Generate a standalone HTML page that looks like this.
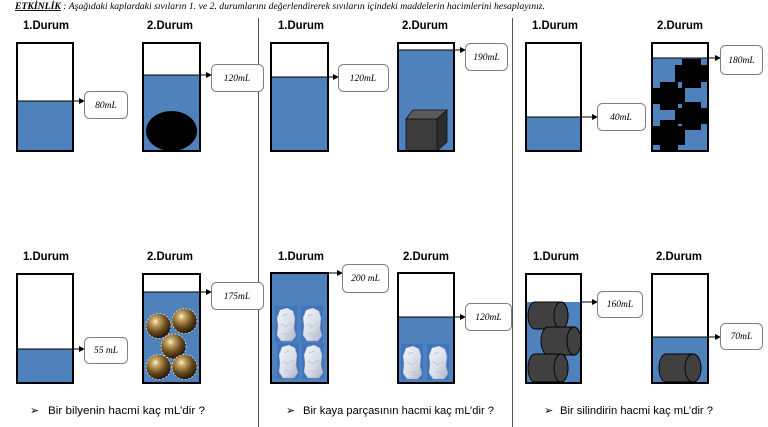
<!DOCTYPE html>
<html><head><meta charset="utf-8">
<style>
html,body{margin:0;padding:0;background:#fff;}
svg{display:block;}
.dur{font-family:"Liberation Sans",sans-serif;font-weight:bold;font-size:12px;fill:#000;}
.lbl{font-family:"Liberation Serif",serif;font-style:italic;font-size:9.5px;fill:#000;}
.q{font-family:"Liberation Sans",sans-serif;font-size:11px;fill:#000;}
</style></head>
<body>
<svg width="768" height="427" viewBox="0 0 768 427" xmlns="http://www.w3.org/2000/svg">
<defs>
  <marker id="ah" markerWidth="6" markerHeight="6" refX="5" refY="3" orient="auto" markerUnits="userSpaceOnUse">
    <path d="M0,0 L6,3 L0,6 Z" fill="#000"/>
  </marker>
  <radialGradient id="ball" cx="0.38" cy="0.32" r="0.7">
    <stop offset="0" stop-color="#fff4d6"/>
    <stop offset="0.2" stop-color="#c9a866"/>
    <stop offset="0.6" stop-color="#6b4d1e"/>
    <stop offset="1" stop-color="#1e1406"/>
  </radialGradient>
  <linearGradient id="rockg" x1="0" y1="0" x2="1" y2="1">
    <stop offset="0" stop-color="#f4f6fa"/>
    <stop offset="0.6" stop-color="#d6dbe6"/>
    <stop offset="1" stop-color="#aab2c4"/>
  </linearGradient>
  <g id="rock">
    <rect x="0" y="0" width="22" height="36" fill="#3f74c0"/>
    <path d="M5,4 L12,2 L18,5 L20,12 L19,22 L21,30 L17,35 L6,35 L2,29 L3,20 L2,12 Z" fill="url(#rockg)" stroke="#9aa4b8" stroke-width="0.5"/>
    <path d="M7,10 L12,8 M6,18 L11,21 L16,17 M8,27 L14,29" stroke="#b8c0d0" stroke-width="0.8" fill="none"/>
  </g>
  <clipPath id="c3b"><rect x="652" y="58" width="56" height="93"/></clipPath>
  <clipPath id="c6a"><rect x="526" y="274" width="55" height="109"/></clipPath>
</defs>

<!-- Header -->
<text x="15" y="9" textLength="530" lengthAdjust="spacingAndGlyphs" style="font-family:'Liberation Serif',serif;font-style:italic;font-size:9px;"><tspan font-weight="bold" text-decoration="underline">ETKİNLİK</tspan> : Aşağıdaki kaplardaki sıvıların 1. ve 2. durumlarını değerlendirerek sıvıların içindeki maddelerin hacimlerini hesaplayınız.</text>

<!-- Dividers -->
<line x1="258.5" y1="18" x2="258.5" y2="427" stroke="#555" stroke-width="1"/>
<line x1="512.5" y1="18" x2="512.5" y2="427" stroke="#555" stroke-width="1"/>

<!-- Durum labels top -->
<text class="dur" x="23" y="29" textLength="46" lengthAdjust="spacingAndGlyphs">1.Durum</text>
<text class="dur" x="147" y="29" textLength="46" lengthAdjust="spacingAndGlyphs">2.Durum</text>
<text class="dur" x="278" y="29" textLength="46" lengthAdjust="spacingAndGlyphs">1.Durum</text>
<text class="dur" x="402" y="29" textLength="46" lengthAdjust="spacingAndGlyphs">2.Durum</text>
<text class="dur" x="532" y="29" textLength="46" lengthAdjust="spacingAndGlyphs">1.Durum</text>
<text class="dur" x="657" y="29" textLength="46" lengthAdjust="spacingAndGlyphs">2.Durum</text>
<!-- Durum labels bottom -->
<text class="dur" x="23" y="260" textLength="46" lengthAdjust="spacingAndGlyphs">1.Durum</text>
<text class="dur" x="147" y="260" textLength="46" lengthAdjust="spacingAndGlyphs">2.Durum</text>
<text class="dur" x="278" y="260" textLength="46" lengthAdjust="spacingAndGlyphs">1.Durum</text>
<text class="dur" x="403" y="260" textLength="46" lengthAdjust="spacingAndGlyphs">2.Durum</text>
<text class="dur" x="533" y="260" textLength="46" lengthAdjust="spacingAndGlyphs">1.Durum</text>
<text class="dur" x="656" y="260" textLength="46" lengthAdjust="spacingAndGlyphs">2.Durum</text>

<!-- ===== TOP ROW ===== -->
<!-- Panel A C1 -->
<rect x="17" y="101" width="56" height="50" fill="#4f81bd"/>
<line x1="17" y1="101" x2="73" y2="101" stroke="#000" stroke-width="1"/>
<rect x="17" y="43" width="56" height="108" fill="none" stroke="#000" stroke-width="2"/>
<line x1="73" y1="101" x2="84" y2="101" stroke="#000" marker-end="url(#ah)"/>
<rect x="84.5" y="91.5" width="43" height="27" rx="5" fill="#fff" stroke="#7f7f7f"/>
<text class="lbl" x="106" y="108" text-anchor="middle">80mL</text>

<!-- Panel A C2 -->
<rect x="143" y="75" width="57" height="76" fill="#4f81bd"/>
<ellipse cx="171.5" cy="131" rx="25.5" ry="20" fill="#000"/>
<line x1="143" y1="75" x2="200" y2="75" stroke="#000" stroke-width="1"/>
<rect x="143" y="43" width="57" height="108" fill="none" stroke="#000" stroke-width="2"/>
<line x1="200" y1="75" x2="211" y2="75" stroke="#000" marker-end="url(#ah)"/>
<rect x="211.5" y="64.5" width="52" height="27" rx="5" fill="#fff" stroke="#7f7f7f"/>
<text class="lbl" x="237" y="81" text-anchor="middle">120mL</text>

<!-- Panel B C1 -->
<rect x="271" y="77" width="57" height="74" fill="#4f81bd"/>
<line x1="271" y1="77" x2="328" y2="77" stroke="#000" stroke-width="1"/>
<rect x="271" y="43" width="57" height="108" fill="none" stroke="#000" stroke-width="2"/>
<line x1="328" y1="77" x2="338" y2="77" stroke="#000" marker-end="url(#ah)"/>
<rect x="338.5" y="64.5" width="50" height="27" rx="5" fill="#fff" stroke="#7f7f7f"/>
<text class="lbl" x="363" y="81" text-anchor="middle">120mL</text>

<!-- Panel B C2 -->
<rect x="398" y="50" width="56" height="101" fill="#4f81bd"/>
<!-- cube -->
<polygon points="406,119 413,110 447,110 437,119" fill="#5a5a5a" stroke="#111" stroke-width="0.8"/>
<polygon points="437,119 447,110 447,142 437,151" fill="#2c2c2c" stroke="#111" stroke-width="0.8"/>
<rect x="406" y="119" width="31" height="32" fill="#3c3c3c" stroke="#111" stroke-width="0.8"/>
<line x1="398" y1="50" x2="454" y2="50" stroke="#000" stroke-width="1"/>
<rect x="398" y="43" width="56" height="108" fill="none" stroke="#000" stroke-width="2"/>
<line x1="454" y1="50" x2="465" y2="50" stroke="#000" marker-end="url(#ah)"/>
<rect x="465.5" y="43.5" width="42" height="27" rx="5" fill="#fff" stroke="#7f7f7f"/>
<text class="lbl" x="486.5" y="60" text-anchor="middle">190mL</text>

<!-- Panel C C1 -->
<rect x="526" y="117" width="55" height="34" fill="#4f81bd"/>
<line x1="526" y1="117" x2="581" y2="117" stroke="#000" stroke-width="1"/>
<rect x="526" y="43" width="55" height="108" fill="none" stroke="#000" stroke-width="2"/>
<line x1="581" y1="117" x2="597" y2="117" stroke="#000" marker-end="url(#ah)"/>
<rect x="597.5" y="103.5" width="48" height="27" rx="5" fill="#fff" stroke="#7f7f7f"/>
<text class="lbl" x="621" y="120" text-anchor="middle">40mL</text>

<!-- Panel C C2 -->
<rect x="652" y="58" width="56" height="93" fill="#4f81bd"/>
<g clip-path="url(#c3b)" fill="#000">
  <polygon points="682,59 701,59 701,65 708,65 708,82 701,82 701,88 682,88 682,82 675,82 675,65 682,65"/>
  <polygon points="660,82 678,82 678,88 685,88 685,104 678,104 678,110 660,110 660,104 653,104 653,88 660,88"/>
  <polygon points="682,102 701,102 701,108 708,108 708,124 701,124 701,130 682,130 682,124 675,124 675,108 682,108"/>
  <polygon points="660,120 678,120 678,126 685,126 685,145 678,145 678,151 660,151 660,145 653,145 653,126 660,126"/>
</g>
<line x1="652" y1="58" x2="708" y2="58" stroke="#000" stroke-width="1"/>
<rect x="652" y="43" width="56" height="108" fill="none" stroke="#000" stroke-width="2"/>
<line x1="708" y1="58" x2="720" y2="58" stroke="#000" marker-end="url(#ah)"/>
<rect x="720.5" y="45.5" width="42" height="29" rx="5" fill="#fff" stroke="#7f7f7f"/>
<text class="lbl" x="741.5" y="63" text-anchor="middle">180mL</text>

<!-- ===== BOTTOM ROW ===== -->
<!-- Panel A C1 -->
<rect x="17" y="349" width="56" height="34" fill="#4f81bd"/>
<line x1="17" y1="349" x2="73" y2="349" stroke="#000" stroke-width="1"/>
<rect x="17" y="274" width="56" height="109" fill="none" stroke="#000" stroke-width="2"/>
<line x1="73" y1="349" x2="84" y2="349" stroke="#000" marker-end="url(#ah)"/>
<rect x="84.5" y="337.5" width="43" height="26" rx="5" fill="#fff" stroke="#7f7f7f"/>
<text class="lbl" x="106" y="353" text-anchor="middle">55 mL</text>

<!-- Panel A C2 -->
<rect x="143" y="292" width="57" height="91" fill="#4f81bd"/>
<g stroke="#d8d8d8" stroke-width="0.8" stroke-dasharray="2,1.5" fill="url(#ball)">
  <circle cx="158.5" cy="326" r="12.5"/>
  <circle cx="184.5" cy="321" r="12.5"/>
  <circle cx="173.5" cy="346.5" r="12.5"/>
  <circle cx="158.5" cy="367" r="12.5"/>
  <circle cx="184.5" cy="367" r="12.5"/>
</g>
<line x1="143" y1="292" x2="200" y2="292" stroke="#000" stroke-width="1"/>
<rect x="143" y="274" width="57" height="109" fill="none" stroke="#000" stroke-width="2"/>
<line x1="200" y1="292" x2="211" y2="292" stroke="#000" marker-end="url(#ah)"/>
<rect x="211.5" y="282.5" width="52" height="27" rx="5" fill="#fff" stroke="#7f7f7f"/>
<text class="lbl" x="237" y="299" text-anchor="middle">175mL</text>

<!-- Panel B C1 -->
<rect x="271" y="273" width="57" height="110" fill="#4f81bd"/>
<use href="#rock" x="275" y="306"/>
<use href="#rock" x="301" y="306"/>
<use href="#rock" x="277" y="343"/>
<use href="#rock" x="302" y="343"/>
<rect x="271" y="273" width="57" height="110" fill="none" stroke="#000" stroke-width="2"/>
<line x1="328" y1="273" x2="342" y2="273" stroke="#000" marker-end="url(#ah)"/>
<rect x="342.5" y="264.5" width="46" height="28" rx="5" fill="#fff" stroke="#7f7f7f"/>
<text class="lbl" x="365.5" y="281" text-anchor="middle">200 mL</text>

<!-- Panel B C2 -->
<rect x="398" y="317" width="56" height="66" fill="#4f81bd"/>
<use href="#rock" x="401" y="344"/>
<use href="#rock" x="427" y="344"/>
<line x1="398" y1="317" x2="454" y2="317" stroke="#000" stroke-width="1"/>
<rect x="398" y="273" width="56" height="110" fill="none" stroke="#000" stroke-width="2"/>
<line x1="454" y1="317" x2="465" y2="317" stroke="#000" marker-end="url(#ah)"/>
<rect x="465.5" y="303.5" width="46" height="27" rx="5" fill="#fff" stroke="#7f7f7f"/>
<text class="lbl" x="488.5" y="320" text-anchor="middle">120mL</text>

<!-- Panel C C1 -->
<rect x="526" y="302" width="55" height="81" fill="#4f81bd"/>
<g clip-path="url(#c6a)" fill="#404040" stroke="#000" stroke-width="0.9">
  <path d="M535,302 L561,302 A7,13.5 0 0 1 561,329 L535,329 A7,13.5 0 0 1 535,302 Z"/>
  <ellipse cx="561" cy="315.5" rx="7" ry="13.5"/>
  <path d="M548,327 L574,327 A7,14 0 0 1 574,355 L548,355 A7,14 0 0 1 548,327 Z"/>
  <ellipse cx="574" cy="341" rx="7" ry="14"/>
  <path d="M535,354 L561,354 A7,14 0 0 1 561,382 L535,382 A7,14 0 0 1 535,354 Z"/>
  <ellipse cx="561" cy="368" rx="7" ry="14"/>
</g>
<rect x="526" y="274" width="55" height="109" fill="none" stroke="#000" stroke-width="2"/>
<line x1="581" y1="302" x2="597" y2="302" stroke="#000" marker-end="url(#ah)"/>
<rect x="597.5" y="291.5" width="45" height="26" rx="5" fill="#fff" stroke="#7f7f7f"/>
<text class="lbl" x="620" y="307" text-anchor="middle">160mL</text>

<!-- Panel C C2 -->
<rect x="652" y="337" width="56" height="46" fill="#4f81bd"/>
<g fill="#404040" stroke="#000" stroke-width="0.9">
  <path d="M666,354 L693,354 A8,14 0 0 1 693,382 L666,382 A7,14 0 0 1 666,354 Z"/>
  <ellipse cx="693" cy="368" rx="8" ry="14"/>
</g>
<line x1="652" y1="337" x2="708" y2="337" stroke="#000" stroke-width="1"/>
<rect x="652" y="274" width="56" height="109" fill="none" stroke="#000" stroke-width="2"/>
<line x1="708" y1="337" x2="720" y2="337" stroke="#000" marker-end="url(#ah)"/>
<rect x="720.5" y="323.5" width="42" height="26" rx="5" fill="#fff" stroke="#7f7f7f"/>
<text class="lbl" x="741.5" y="339" text-anchor="middle">70mL</text>

<!-- Questions -->
<text class="q" x="30" y="414">➢</text>
<text class="q" x="48" y="414" textLength="157" lengthAdjust="spacingAndGlyphs">Bir bilyenin hacmi kaç mL’dir ?</text>
<text class="q" x="286" y="414">➢</text>
<text class="q" x="303" y="414" textLength="191" lengthAdjust="spacingAndGlyphs">Bir kaya parçasının hacmi kaç mL’dir ?</text>
<text class="q" x="544" y="414">➢</text>
<text class="q" x="560" y="414" textLength="153" lengthAdjust="spacingAndGlyphs">Bir silindirin hacmi kaç mL’dir ?</text>
</svg>
</body></html>
